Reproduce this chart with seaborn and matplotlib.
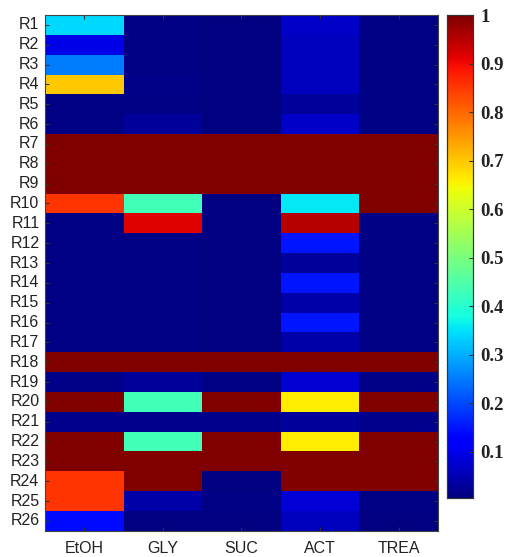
"""Heatmap of normalised response per row and substrate (MATLAB-style jet)."""
import matplotlib

matplotlib.use("Agg")
import matplotlib.pyplot as plt
import numpy as np
import pandas as pd
import seaborn as sns

rows = [f"R{i}" for i in range(1, 27)]
substrates = ["EtOH", "GLY", "SUC", "ACT", "TREA"]

etoh = [0.34, 0.095, 0.25, 0.70, 0.01, 0.01, 1, 1, 1, 0.856, 0.01, 0.01, 0.01,
        0.01, 0.01, 0.01, 0.01, 1, 0.015, 1, 0.02, 1, 1, 0.856, 0.856, 0.14]
gly = [0.01, 0.01, 0.01, 0.015, 0.01, 0.03, 1, 1, 1, 0.43, 0.916, 0.01, 0.01,
       0.01, 0.01, 0.01, 0.01, 1, 0.03, 0.43, 0.02, 0.43, 1, 1, 0.04, 0.007]
suc = [0.005, 0.005, 0.005, 0.005, 0.005, 0.005, 1, 1, 1, 0.005, 0.005, 0.005, 0.005,
       0.005, 0.005, 0.005, 0.005, 1, 0.01, 1, 0.02, 1, 1, 0.005, 0.01, 0.005]
act = [0.07, 0.06, 0.06, 0.06, 0.03, 0.07, 1, 1, 1, 0.357, 0.95, 0.15, 0.03,
       0.15, 0.04, 0.15, 0.04, 1, 0.075, 0.66, 0.03, 0.66, 1, 1, 0.08, 0.06]
trea = [0.01, 0.01, 0.01, 0.01, 0.01, 0.01, 1, 1, 1, 1, 0.01, 0.01, 0.01,
        0.01, 0.01, 0.01, 0.01, 1, 0.015, 1, 0.02, 1, 1, 1, 0.01, 0.005]

cbar_ticks = [0.1, 0.2, 0.3, 0.4, 0.5, 0.6, 0.7, 0.8, 0.9, 1]
cbar_labels = ["0.1", "0.2", "0.3", "0.4", "0.5", "0.6", "0.7", "0.8", "0.9", "1"]

df = pd.DataFrame({"EtOH": etoh, "GLY": gly, "SUC": suc, "ACT": act, "TREA": trea},
                  index=rows)[substrates]

sns.set_style("white")
plt.rcParams["font.family"] = ["Liberation Sans", "DejaVu Sans"]
plt.rcParams["axes.axisbelow"] = False

fig = plt.figure(figsize=(5.05, 5.57), dpi=100)
ax = fig.add_axes([0.089, 0.047, 0.778, 0.926])
cax = fig.add_axes([0.885, 0.106, 0.052, 0.867])

sns.heatmap(df, ax=ax, cbar_ax=cax, cmap="jet", vmin=0.005, vmax=1,
            cbar_kws={"ticks": cbar_ticks})

ax.set_axisbelow(False)
ax.tick_params(axis="both", direction="in", length=3, width=0.8, color="#333333",
               labelsize=11.5, labelcolor="#222222", top=True, right=True,
               bottom=True, left=True, labeltop=False, labelright=False)
ax.tick_params(axis="x", pad=7)
ax.tick_params(axis="y", pad=4)
ax.set_yticklabels(rows, rotation=0)
ax.set_xticklabels(substrates, rotation=0)
ax.set_xlabel("")
ax.set_ylabel("")
for sp in ax.spines.values():
    sp.set_visible(True)
    sp.set_color("#444444")
    sp.set_linewidth(0.8)

cax.set_axisbelow(False)
cax.set_yticklabels(cbar_labels)
cax.tick_params(direction="in", length=3, width=0.8, color="#333333", pad=5,
                right=True, left=False)
for lab in cax.get_yticklabels():
    lab.set_fontfamily("Liberation Serif")
    lab.set_fontweight("bold")
    lab.set_fontsize(13.5)
    lab.set_color("#222222")
cax.set_frame_on(True)
for sp in cax.spines.values():
    sp.set_visible(True)
    sp.set_color("#333333")
    sp.set_linewidth(0.8)

fig.savefig("out.png", dpi=100)
plt.close(fig)
